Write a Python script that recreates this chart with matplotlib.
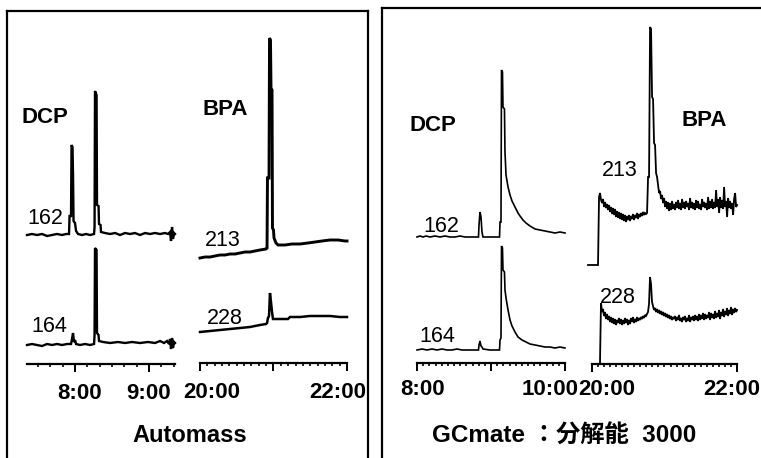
import numpy as np
import matplotlib
matplotlib.use("Agg")
import matplotlib.pyplot as plt
from matplotlib.lines import Line2D
from matplotlib.transforms import ScaledTranslation

# ---------------------------------------------------------------------------
# Chromatogram data: retention time (min) and signal height above baseline
# ---------------------------------------------------------------------------

# Automass, DCP, m/z 162
am_dcp162_t = [7.351, 7.419, 7.486, 7.554, 7.622, 7.689, 7.757, 7.824, 7.878, 7.919,
               7.926, 7.946, 7.953, 7.966, 7.973, 7.980, 8.000, 8.014, 8.041, 8.095,
               8.149, 8.203, 8.257, 8.264, 8.270, 8.291, 8.297, 8.318, 8.324, 8.345,
               8.351, 8.405, 8.473, 8.541, 8.608, 8.676, 8.743, 8.811, 8.878, 8.946,
               9.014, 9.081, 9.149, 9.216, 9.257, 9.284, 9.297, 9.311, 9.324, 9.338,
               9.351]
am_dcp162_i = [0, 1, 0, 1, -1, 0, 1, 0, 1, 1,
               19, 19, 90, 88, 60, 14, 12, 4, 1, 0,
               1, 0, 1, 8, 144, 140, 30, 29, 11, 10,
               3, 2, 1, 2, 0, 2, 1, 2, 0, 2,
               1, 2, 1, 2, 1, 3, -6, 8, -4, 2,
               1]

# Automass, DCP, m/z 164
am_dcp164_t = [7.351, 7.419, 7.486, 7.554, 7.622, 7.689, 7.757, 7.824, 7.892,
               7.946, 7.959, 7.973, 7.986, 8.000, 8.014, 8.068, 8.135, 8.203, 8.257,
               8.264, 8.270, 8.291, 8.297, 8.318, 8.324, 8.378, 8.473, 8.581, 8.676,
               8.770, 8.878, 8.986, 9.081, 9.149, 9.203, 9.243, 9.270, 9.284, 9.297,
               9.311, 9.324, 9.338, 9.351]
am_dcp164_i = [0, 1, 0, -1, 1, 0, 1, 0, 1,
               1, 6, 12, 3, 5, 1, 0, 1, 0, 1,
               10, 97, 95, 12, 10, 4, 3, 2, 3, 2,
               3, 2, 3, 2, 4, 2, 4, 1, 6, -4,
               7, -3, 3, 2]

# Automass, BPA, m/z 213
am_bpa213_t = [20.000, 20.068, 20.136, 20.204, 20.272, 20.340, 20.408, 20.476, 20.544,
               20.612, 20.680, 20.748, 20.816, 20.898, 20.912, 20.918, 20.939, 20.946,
               20.959, 20.966, 20.980, 20.986, 21.000, 21.007, 21.034, 21.061, 21.156,
               21.252, 21.361, 21.469, 21.565, 21.660, 21.769, 21.878, 21.973, 22.000]
am_bpa213_i = [0, 1, 1, 2, 3, 3, 4, 4, 5,
               6, 6, 7, 8, 9, 10, 80, 80, 220,
               218, 170, 168, 30, 28, 20, 15, 13, 13,
               14, 14, 15, 16, 17, 18, 18, 17, 17]

# Automass, BPA, m/z 228
am_bpa228_t = [20.000, 20.136, 20.272, 20.408, 20.544, 20.680, 20.816,
               20.898, 20.912, 20.925, 20.939, 20.952, 20.966, 20.980, 20.993,
               21.088, 21.197, 21.224, 21.361, 21.497, 21.633, 21.769, 21.905, 22.000]
am_bpa228_i = [0, 1, 2, 3, 4, 5, 7,
               8, 9, 14, 16, 39, 30, 20, 13,
               13, 13, 15, 15, 16, 16, 16, 15, 15]

# GCmate, DCP, m/z 162
gc_dcp162_t = [8.000, 8.041, 8.081, 8.122, 8.176, 8.243, 8.311, 8.378, 8.446, 8.514,
               8.581, 8.649, 8.716, 8.784, 8.831, 8.838, 8.851, 8.865, 8.878, 8.892,
               8.986, 9.054, 9.115, 9.122, 9.135, 9.142, 9.155, 9.162, 9.182, 9.189,
               9.203, 9.230, 9.257, 9.284, 9.324, 9.365, 9.392, 9.432, 9.473, 9.527,
               9.595, 9.662, 9.730, 9.797, 9.865, 9.932, 10.000]
gc_dcp162_i = [0, 1, 0, 1, 0, 1, 0, 1, 0, 0,
               1, 0, 0, 0, 0, 12, 25, 20, 5, 0,
               0, 0, 0, 15, 15, 167, 165, 130, 128, 85,
               62, 50, 42, 36, 30, 24, 21, 17, 14, 11,
               8, 7, 6, 5, 4, 5, 4]

# GCmate, DCP, m/z 164
gc_dcp164_t = [8.000, 8.068, 8.135, 8.203, 8.270, 8.338, 8.405, 8.473, 8.541, 8.608,
               8.676, 8.743, 8.831, 8.838, 8.851, 8.865, 8.878, 8.892,
               8.986, 9.115, 9.122, 9.135, 9.142, 9.155, 9.162, 9.182, 9.189, 9.203,
               9.230, 9.257, 9.284, 9.324, 9.365, 9.419, 9.473, 9.527, 9.595, 9.662,
               9.730, 9.797, 9.865, 9.932, 10.000]
gc_dcp164_i = [0, 1, 0, 1, 0, 1, 0, 0, 1, 0,
               0, 0, 0, 5, 9, 4, 3, 1,
               0, 0, 10, 12, 104, 102, 80, 78, 60, 52,
               40, 30, 24, 18, 13, 10, 8, 6, 5, 4,
               3, 3, 2, 3, 2]

# GCmate, BPA: scan-by-scan signal (scan interval in min)
gc_scan_step = 0.0138

gc_bpa213_lead_t = [19.945, 20.083]
gc_bpa213_lead_i = [0, 0]
gc_bpa213_scan_start = 20.097
gc_bpa213_scan_i = [68, 72, 65, 62, 66, 58, 63, 57, 61, 55,
                    60, 53, 58, 51, 57, 50, 56, 48, 54, 47,
                    53, 46, 52, 45, 51, 44, 50, 43, 49, 45,
                    50, 44, 49, 46, 51, 45, 50, 47, 52, 46,
                    51, 48, 52, 49, 53, 50, 52, 51,
                    52, 88, 88, 238, 236, 168, 166, 122, 120, 92, 88, 80, 72,
                    74, 66, 70, 62, 67, 58, 64, 56, 63, 54,
                    62, 55, 64, 56, 61, 55, 63, 57, 65, 56,
                    62, 55, 66, 57, 63, 56, 64, 58, 62, 55,
                    67, 57, 63, 56, 62, 55, 65, 57, 64, 56,
                    61, 55, 66, 58, 63, 57, 62, 55, 68, 56,
                    64, 57, 66, 56, 63, 57, 75, 58, 66, 52,
                    68, 57, 65, 56, 78, 58, 64, 48, 67, 57,
                    64, 56, 62, 50, 66, 72, 58, 60]

gc_bpa228_lead_t = [20.110]
gc_bpa228_lead_i = [0]
gc_bpa228_scan_start = 20.124
gc_bpa228_scan_i = [61, 52, 55, 48, 52, 45, 50, 44, 48, 42,
                    47, 41, 46, 40, 45, 39, 44, 41, 46, 40,
                    45, 39, 44, 40, 46, 41, 45, 39, 44, 40,
                    46, 42, 47, 41, 45, 42, 47, 43, 46, 44,
                    47, 45, 48, 46, 49, 48, 50, 52,
                    60, 87, 80, 62, 58,
                    54, 56, 52, 55, 51, 54, 50, 53, 49, 52,
                    48, 51, 47, 50, 46, 49, 45, 48, 44, 47,
                    45, 48, 43, 47, 44, 49, 43, 46, 42, 47,
                    44, 48, 42, 46, 43, 49, 42, 47, 44, 48,
                    43, 49, 44, 48, 43, 50, 44, 49, 45, 51,
                    44, 50, 45, 49, 46, 52, 44, 51, 46, 50,
                    45, 53, 46, 51, 47, 54, 45, 52, 48, 55,
                    47, 53, 49, 56, 48, 54, 50, 57, 49, 55,
                    51, 56, 52, 54]

gc_bpa213_t = np.concatenate([gc_bpa213_lead_t,
                              gc_bpa213_scan_start + gc_scan_step * np.arange(len(gc_bpa213_scan_i))])
gc_bpa213_i = np.concatenate([gc_bpa213_lead_i, gc_bpa213_scan_i])
gc_bpa228_t = np.concatenate([gc_bpa228_lead_t,
                              gc_bpa228_scan_start + gc_scan_step * np.arange(len(gc_bpa228_scan_i))])
gc_bpa228_i = np.concatenate([gc_bpa228_lead_i, gc_bpa228_scan_i])

# Axis ticks and labels
am_dcp_ticks, am_dcp_labels = [8.0, 9.0], ["8:00", "9:00"]
am_bpa_ticks, am_bpa_labels = [20.0, 21.0, 22.0], ["20:00", "", "22:00"]
gc_dcp_ticks, gc_dcp_labels = [8.0, 9.0, 10.0], ["8:00", "", "10:00"]
gc_bpa_ticks, gc_bpa_labels = [20.0, 22.0], ["20:00", "22:00"]

# ---------------------------------------------------------------------------
W, H = 761, 458
plt.rcParams['font.family'] = ['Liberation Sans', 'Noto Sans CJK JP', 'DejaVu Sans']
fig = plt.figure(figsize=(W / 100, H / 100), dpi=100)
fig.patch.set_facecolor("white")
TOP = 15  # top of every trace area, px from the top edge


def fx(x):
    return x / W


def fy(y):
    return 1 - y / H


def trace_axes(x0, x1, y_axis, tmin, tmax, ticks, labels, minor_step, shifts, pad):
    ax = fig.add_axes([fx(x0), fy(y_axis), (x1 - x0) / W, (y_axis - TOP) / H])
    ax.set_xlim(tmin, tmax)
    ax.set_ylim(0, y_axis - TOP)
    ax.patch.set_visible(False)
    for s in ("left", "right", "top"):
        ax.spines[s].set_visible(False)
    ax.spines["bottom"].set_linewidth(1.6)
    ax.set_yticks([])
    ax.set_xticks(ticks, labels)
    first = np.ceil(tmin / minor_step - 1e-6) * minor_step
    ax.set_xticks(np.arange(first, tmax + 1e-6, minor_step), minor=True)
    ax.tick_params(axis="x", which="major", direction="out", length=5.5, width=1.4,
                   pad=pad, labelsize=16)
    ax.tick_params(axis="x", which="minor", direction="out", length=2.4, width=1.2)
    for lab, dx in zip(ax.get_xticklabels(), shifts):
        lab.set_fontweight("bold")
        lab.set_transform(lab.get_transform() + ScaledTranslation(dx / 100, 0, fig.dpi_scale_trans))
    return ax


def draw(ax, t, i, offset, lw):
    ax.plot(t, np.asarray(i) + offset, color="black", lw=lw, clip_on=False,
            solid_joinstyle="miter")


# Automass panel
ax1 = trace_axes(27, 175, 364, 7.351, 9.351, am_dcp_ticks, am_dcp_labels, 1 / 6, [5, 0], 8)
draw(ax1, am_dcp162_t, am_dcp162_i, 129, 1.7)
draw(ax1, am_dcp164_t, am_dcp164_i, 19, 1.7)

ax2 = trace_axes(200, 347, 363, 20.0, 22.0, am_bpa_ticks, am_bpa_labels, 0.1, [12, 0, -9], 8)
draw(ax2, am_bpa213_t, am_bpa213_i, 105, 2.1)
draw(ax2, am_bpa228_t, am_bpa228_i, 31, 1.8)

# GCmate panel
ax3 = trace_axes(417, 565, 363, 8.0, 10.0, gc_dcp_ticks, gc_dcp_labels, 1 / 12, [6, 0, -15], 6)
draw(ax3, gc_dcp162_t, gc_dcp162_i, 126, 1.2)
draw(ax3, gc_dcp164_t, gc_dcp164_i, 13, 1.2)

ax4 = trace_axes(592, 737, 364, 20.0, 22.0, gc_bpa_ticks, gc_bpa_labels, 1 / 12, [15, -5], 5.5)
draw(ax4, gc_bpa213_t, gc_bpa213_i, 99, 1.3)
draw(ax4, gc_bpa228_t, gc_bpa228_i, 0, 1.3)


def label(x, y, s, size, bold=False):
    # y is the vertical centre of the capital letters
    base = y + 0.716 * size * 100 / 72 / 2
    fig.text(fx(x), fy(base), s, ha="center", va="baseline", fontsize=size,
             fontweight="bold" if bold else "normal", color="black")


for x, y, s in [(45, 115, "DCP"), (225, 107, "BPA"), (433, 123, "DCP"), (704, 118, "BPA")]:
    label(x, y, s, 16, bold=True)
for x, y, s in [(45, 216, "162"), (49, 324, "164"), (223, 238, "213"), (225, 316, "228"),
                (441, 224, "162"), (437, 334, "164"), (620, 168, "213"), (618, 295, "228")]:
    label(x, y, s, 15.5)

label(190, 434, "Automass", 17, bold=True)
label(564, 434, "GCmate ：分解能  3000", 17.5, bold=True)

# Panel frames
frame = dict(color="black", lw=1.6, transform=fig.transFigure)
for (xa, ya), (xb, yb) in [((7, 11), (368, 11)), ((7, 11), (7, 470)), ((368, 11), (368, 470)),
                           ((382, 8), (775, 8)), ((382, 8), (382, 470))]:
    fig.add_artist(Line2D([fx(xa), fx(xb)], [fy(ya), fy(yb)], **frame))

fig.savefig("out.png", dpi=100, facecolor="white")
